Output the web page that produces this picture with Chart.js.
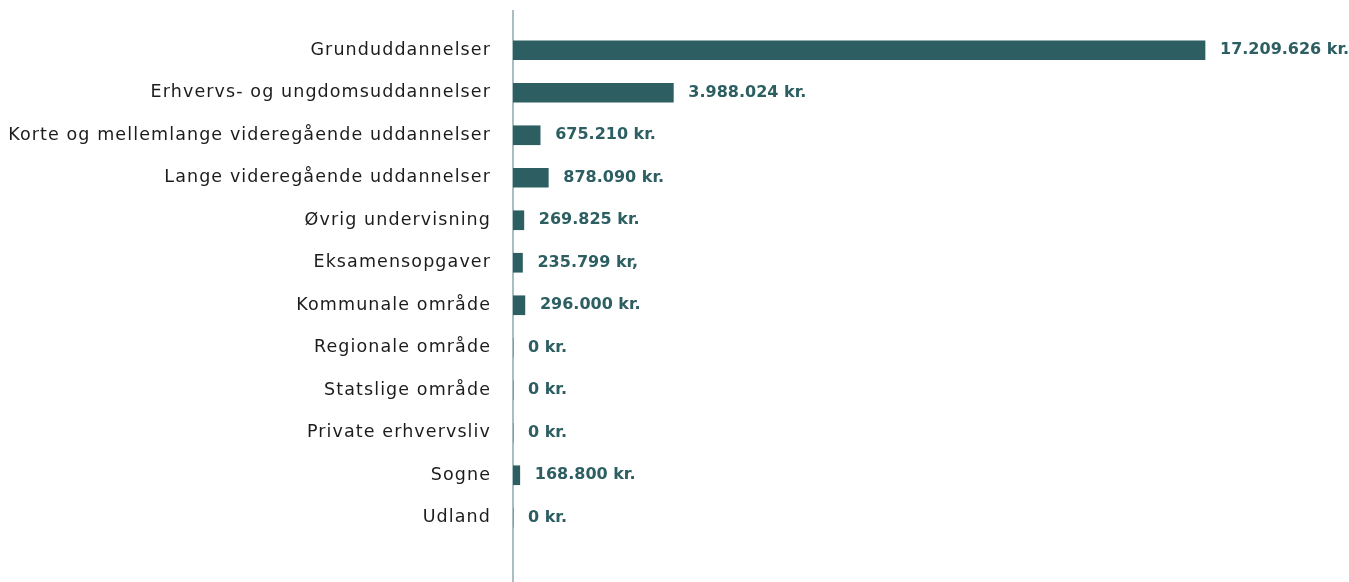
<!DOCTYPE html>
<html>
<head>
<meta charset="utf-8">
<script src="https://cdn.jsdelivr.net/npm/chart.js@4"></script>
<style>
  html, body { margin: 0; padding: 0; background: #fff; }
  #wrap { width: 1349px; height: 582px; position: relative; }
</style>
</head>
<body>
<div id="wrap"><canvas id="chart"></canvas></div>
<script>
const categories = [
  "Grunduddannelser",
  "Erhvervs- og ungdomsuddannelser",
  "Korte og mellemlange videregående uddannelser",
  "Lange videregående uddannelser",
  "Øvrig undervisning",
  "Eksamensopgaver",
  "Kommunale område",
  "Regionale område",
  "Statslige område",
  "Private erhvervsliv",
  "Sogne",
  "Udland"
];
const amounts = [17209626, 3988024, 675210, 878090, 269825, 235799, 296000, 0, 0, 0, 168800, 0];
const valueLabels = [
  "17.209.626 kr.", "3.988.024 kr.", "675.210 kr.", "878.090 kr.",
  "269.825 kr.", "235.799 kr,", "296.000 kr.", "0 kr.", "0 kr.", "0 kr.",
  "168.800 kr.", "0 kr."
];

const teal = "#2c5e62";
const fontFamily = "'DejaVu Sans', sans-serif";

//wider category text (the original font is a wide geometric one)
const spacingPlugin = {
  id: "spacing",
  beforeDraw(chart) { chart.ctx.letterSpacing = "1.1px"; },
  afterDraw(chart) { chart.ctx.letterSpacing = "0px"; }
};

//draws the value text next to each bar
const valueLabelPlugin = {
  id: "valueLabels",
  afterDatasetsDraw(chart) {
    let c = chart.ctx;
    let meta = chart.getDatasetMeta(0);
    c.save();
    c.letterSpacing = "0px";
    c.font = "bold 16px " + fontFamily;
    c.fillStyle = teal;
    c.textBaseline = "middle";
    c.textAlign = "left";
    meta.data.forEach((bar, i) => {
      c.fillText(valueLabels[i], bar.x + 15, bar.y);
    });
    c.restore();
  }
};

//vertical axis line, taller than the category band
const axisLinePlugin = {
  id: "axisLine",
  beforeDatasetsDraw(chart) {
    let c = chart.ctx;
    let x = chart.scales.x.getPixelForValue(0);
    c.save();
    c.strokeStyle = "#8ba8ab";
    c.lineWidth = 1.5;
    c.beginPath();
    c.moveTo(x, 10);
    c.lineTo(x, chart.height);
    c.stroke();
    c.restore();
  }
};

new Chart(document.querySelector("#chart"), {
  type: "bar",
  data: {
    labels: categories,
    datasets: [{
      data: amounts,
      backgroundColor: teal,
      barThickness: 19,
      borderWidth: 0
    }]
  },
  options: {
    indexAxis: "y",
    responsive: true,
    maintainAspectRatio: false,
    animation: false,
    layout: { padding: { top: 29, bottom: 43, left: 0, right: 0 } },
    plugins: {
      legend: { display: false },
      tooltip: { enabled: false }
    },
    scales: {
      x: {
        display: false,
        min: 0,
        max: 20790000
      },
      y: {
        grid: { display: false },
        border: { display: false },
        ticks: {
          color: "#1c1c1c",
          padding: 14,
          font: { family: fontFamily, size: 17.5 }
        },
        afterFit(scale) { scale.width = 513; }
      }
    }
  },
  plugins: [spacingPlugin, valueLabelPlugin, axisLinePlugin]
});
</script>
</body>
</html>
